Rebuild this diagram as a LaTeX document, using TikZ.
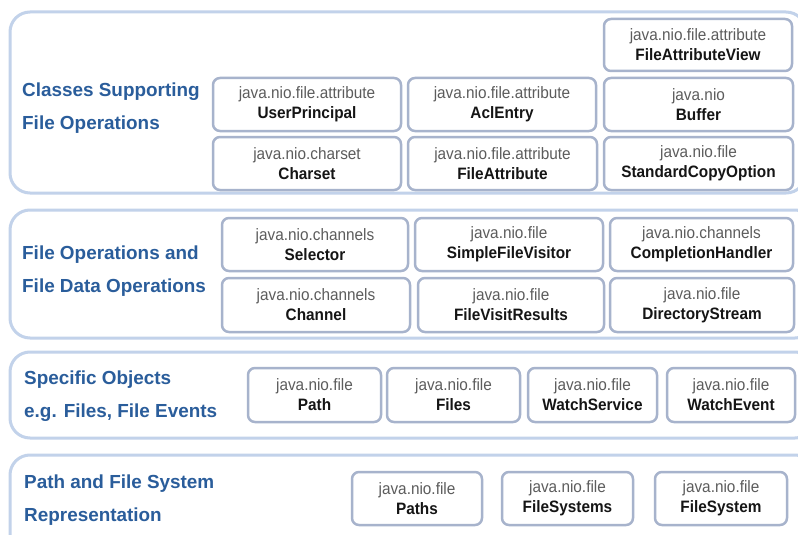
\documentclass[tikz,border=0pt]{standalone}
\usepackage{fontspec}
\setmainfont{Liberation Sans}
\newfontfamily\boxfont[FakeStretch=0.93]{Liberation Sans}
\definecolor{panelline}{HTML}{C2D2EA}
\definecolor{boxline}{HTML}{A7B3CC}
\definecolor{titleblue}{HTML}{2A5D9B}
\definecolor{pkggray}{HTML}{5C5C5C}
\definecolor{clsblack}{HTML}{151515}
\tikzset{
  panel/.style={draw=panelline, line width=3pt, rounded corners=20pt, fill=white},
  jbox/.style={draw=boxline, line width=2.5pt, rounded corners=7pt, fill=white,
    inner sep=0pt, align=center, font=\boxfont\fontsize{16.5}{20}\selectfont},
  ptitle/.style={anchor=west, inner sep=0pt, align=left, text=titleblue,
    font=\bfseries\fontsize{18.9}{33}\selectfont}
}
\newcommand\jbox[7]{%
  \node[jbox, minimum width={(#4-#2)*1pt}, minimum height={(#5-#3)*1pt}]
    (#1) at ({(#2+#4)/2},{(#3+#5)/2}) {\textcolor{pkggray}{#6}\\\textcolor{clsblack}{\bfseries #7}};}
\begin{document}
\begin{tikzpicture}[x=1pt,y=-1pt]
\useasboundingbox[fill=white] (0,0) rectangle (798,535);
\begin{scope}
\clip (0,0) rectangle (798,535);
% panels
\draw[panel] (10,12) rectangle (806,193);
\draw[panel] (10,210) rectangle (815,338);
\draw[panel] (10,352) rectangle (815,438);
\draw[panel] (10,455) rectangle (815,565);
\end{scope}
% titles
\node[ptitle] (t1) at (22,108.5) {Classes Supporting\\File Operations};
\node[ptitle] (t2) at (22,271) {File Operations and\\File Data Operations};
\node[ptitle] (t3) at (24,396) {Specific Objects\\e.g. Files, File Events};
\node[ptitle] (t4) at (24,500) {Path and File System\\Representation};
% panel 1
\jbox{fav}{604}{19}{792}{71}{java.nio.file.attribute}{FileAttributeView}
\jbox{up}{213}{78}{401}{131}{java.nio.file.attribute}{UserPrincipal}
\jbox{acl}{408}{78}{596}{131}{java.nio.file.attribute}{AclEntry}
\jbox{buf}{604}{78}{793}{131}{java.nio}{Buffer}
\jbox{cs}{213}{137}{401}{190}{java.nio.charset}{Charset}
\jbox{fa}{408}{137}{597}{190}{java.nio.file.attribute}{FileAttribute}
\jbox{sco}{604}{137}{793}{190}{java.nio.file}{StandardCopyOption}
% panel 2
\jbox{sel}{222}{218}{408}{271}{java.nio.channels}{Selector}
\jbox{sfv}{415}{218}{603}{271}{java.nio.file}{SimpleFileVisitor}
\jbox{ch}{610}{218}{793}{271}{java.nio.channels}{CompletionHandler}
\jbox{chan}{222}{278}{410}{332}{java.nio.channels}{Channel}
\jbox{fvr}{418}{278}{604}{332}{java.nio.file}{FileVisitResults}
\jbox{ds}{610}{278}{794}{332}{java.nio.file}{DirectoryStream}
% panel 3
\jbox{path}{248}{368}{381}{422}{java.nio.file}{Path}
\jbox{files}{387}{368}{520}{422}{java.nio.file}{Files}
\jbox{ws}{528}{368}{657}{422}{java.nio.file}{WatchService}
\jbox{we}{667}{368}{795}{422}{java.nio.file}{WatchEvent}
% panel 4
\jbox{paths}{352}{472}{482}{525}{java.nio.file}{Paths}
\jbox{fss}{502}{472}{633}{525}{java.nio.file}{FileSystems}
\jbox{fs}{655}{472}{787}{525}{java.nio.file}{FileSystem}
\end{tikzpicture}
\end{document}
